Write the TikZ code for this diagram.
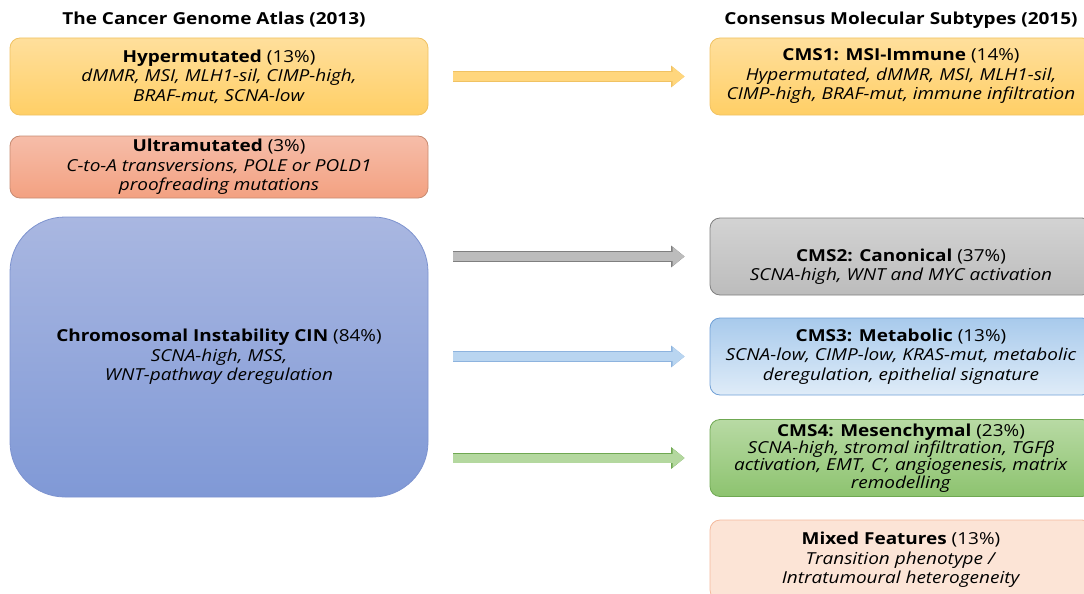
\documentclass[tikz,border=0pt]{standalone}
\usepackage{fontspec}
\setmainfont{Open Sans}[FakeStretch=1.15]
\usetikzlibrary{arrows.meta}

\definecolor{goldtop}{HTML}{FFDF9C}
\definecolor{goldbot}{HTML}{FFCF66}
\definecolor{goldline}{HTML}{F0C263}
\definecolor{salmontop}{HTML}{F6BDA9}
\definecolor{salmonbot}{HTML}{F3A181}
\definecolor{salmonline}{HTML}{C78B72}
\definecolor{cintop}{HTML}{A9B7E1}
\definecolor{cinbot}{HTML}{8099D6}
\definecolor{cinline}{HTML}{7D93CF}
\definecolor{greytop}{HTML}{D3D3D3}
\definecolor{greybot}{HTML}{BCBCBC}
\definecolor{greyline}{HTML}{7F7F7F}
\definecolor{skytop}{HTML}{A8CAEC}
\definecolor{skybot}{HTML}{DFECF8}
\definecolor{skyline}{HTML}{70A0D6}
\definecolor{leaftop}{HTML}{B8DAA4}
\definecolor{leafbot}{HTML}{8DC36F}
\definecolor{leafline}{HTML}{6FA852}
\definecolor{peachfill}{HTML}{FCE4D6}
\definecolor{peachline}{HTML}{F4B99C}

\begin{document}
\begin{tikzpicture}[x=1pt, y=-1pt, font=\fontsize{16.5}{19.5}\selectfont,
    box/.style={rounded corners=10pt, align=center, inner sep=0pt, line width=0.8pt},
    leftbox/.style={box, minimum width=418pt},
    rightbox/.style={box, minimum width=382pt, minimum height=77pt},
    head/.style={font=\bfseries\fontsize{16.5}{19.5}\selectfont},
    flow/.style n args={2}{line width=9pt, draw=#2, -{Triangle[length=12pt,width=18pt]},
        shorten <=25pt, shorten >=25pt,
        preaction={draw=#1, line width=10.6pt, -{Triangle[length=13.5pt,width=21pt]}}}]
\useasboundingbox (0,0) rectangle (1084,594);

\node (tcga) [head] at (214,20) {The Cancer Genome Atlas (2013)};
\node (cms) [head] at (901,20) {Consensus Molecular Subtypes (2015)};

\node (hyper) [leftbox, minimum height=77pt, draw=goldline, top color=goldtop, bottom color=goldbot] at (219,76.5)
    {\textbf{Hypermutated} (13\%)\\ \textit{dMMR, MSI, MLH1-sil, CIMP-high,}\\ \textit{BRAF-mut, SCNA-low}};
\node (ultra) [leftbox, minimum height=62pt, draw=salmonline, top color=salmontop, bottom color=salmonbot] at (219,167)
    {\textbf{Ultramutated} (3\%)\\ \textit{C-to-A transversions, POLE or POLD1}\\ \textit{proofreading mutations}};
\node (cin) [leftbox, minimum height=280pt, rounded corners=55pt, draw=cinline, top color=cintop, bottom color=cinbot] at (219,357)
    {\textbf{Chromosomal Instability CIN} (84\%)\\ \textit{SCNA-high, MSS,}\\ \textit{WNT-pathway deregulation}};

\node (cms1) [rightbox, draw=goldline, top color=goldtop, bottom color=goldbot] at (901,76.5)
    {\textbf{CMS1: MSI-Immune} (14\%)\\ \textit{Hypermutated, dMMR, MSI, MLH1-sil,}\\ \textit{CIMP-high, BRAF-mut, immune infiltration}};
\node (cms2) [rightbox, draw=greyline, top color=greytop, bottom color=greybot] at (901,256.5)
    {\strut\\ \textbf{CMS2: Canonical} (37\%)\\ \textit{SCNA-high, WNT and MYC activation}};
\node (cms3) [rightbox, draw=skyline, top color=skytop, bottom color=skybot] at (901,356.5)
    {\textbf{CMS3: Metabolic} (13\%)\\ \textit{SCNA-low, CIMP-low, KRAS-mut, metabolic}\\ \textit{deregulation, epithelial signature}};
\node (cms4) [rightbox, font=\fontsize{16.5}{15.5}\selectfont, draw=leafline, top color=leaftop, bottom color=leafbot] at (901,458)
    {\textbf{CMS4: Mesenchymal} (23\%)\\ \textit{SCNA-high, stromal infiltration, TGFβ}\\ \textit{activation, EMT, C’, angiogenesis, matrix}\\ \textit{remodelling}};
\node (mixed) [rightbox, minimum height=80pt, draw=peachline, fill=peachfill] at (901,560)
    {\textbf{Mixed Features} (13\%)\\ \textit{Transition phenotype /}\\ \textit{Intratumoural heterogeneity}};

\path[flow={goldline}{goldbot!85!white}] (hyper.east) -- (cms1.west);
\path[flow={greyline}{greybot}] (cin.east |- cms2.west) -- (cms2.west);
\path[flow={skyline!80!white}{skytop!80!white}] (cin.east |- cms3.west) -- (cms3.west);
\path[flow={leafline}{leaftop!90!leafbot}] (cin.east |- cms4.west) -- (cms4.west);
\end{tikzpicture}
\end{document}
